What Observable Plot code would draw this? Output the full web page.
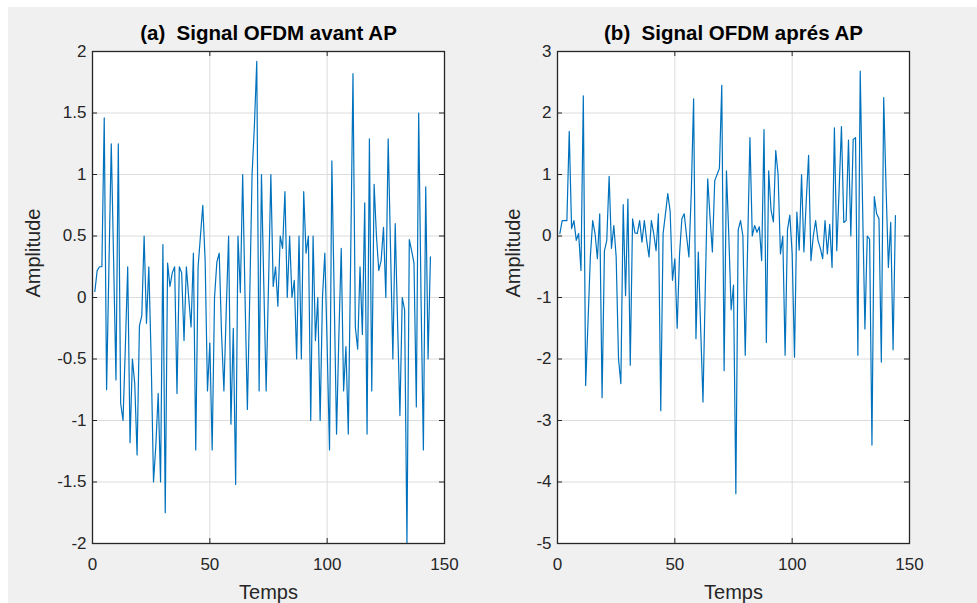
<!DOCTYPE html>
<html>
<head>
<meta charset="utf-8">
<script src="https://cdn.jsdelivr.net/npm/d3@7"></script>
<script src="https://cdn.jsdelivr.net/npm/@observablehq/plot@0.6"></script>
<style>
  html, body { margin: 0; padding: 0; background: #ffffff; }
  #fig { position: relative; width: 977px; height: 603px; overflow: hidden; background: #ffffff; }
  #bg { position: absolute; left: 8px; top: 7px; right: 0; bottom: 0; background: #f0f0f0; }
  .panel { position: absolute; top: 0; }
</style>
</head>
<body>
<div id="fig"><div id="bg"></div></div>
<script>
// ---- data ----
const titleA = "(a)  Signal OFDM avant AP";
const titleB = "(b)  Signal OFDM aprés AP";
const xLabel = "Temps";
const yLabel = "Amplitude";
const xTicks = [0, 50, 100, 150];
const yTicksA = [-2, -1.5, -1, -0.5, 0, 0.5, 1, 1.5, 2];
const yTicksB = [-5, -4, -3, -2, -1, 0, 1, 2, 3];
const tickLabelsA = ["-2", "-1.5", "-1", "-0.5", "0", "0.5", "1", "1.5", "2"];
const tickLabelsB = ["-5", "-4", "-3", "-2", "-1", "0", "1", "2", "3"];

// signal before AP (samples 1..144)
const avantAP = [
  0.05, 0.22, 0.25, 0.25, 1.46, -0.75, 0.25, 1.25, 0.3, -0.67,
  1.25, -0.86, -1.0, -0.4, 0.25, -1.18, -0.5, -0.7, -1.28, -0.23,
  -0.15, 0.5, -0.21, 0.25, -0.5, -1.5, -1.2, -0.78, -1.5, 0.43,
  -1.75, 0.28, 0.09, 0.2, 0.25, -0.78, 0.25, 0.2, -0.35, 0.25,
  0.0, -0.24, 0.36, -1.24, 0.25, 0.5, 0.75, 0.3, -0.76, -0.37,
  -1.24, 0.0, 0.29, 0.36, -0.3, -0.76, -0.1, 0.5, -1.03, -0.25,
  -1.52, 0.5, 0.04, 1.0, 0.0, -0.91, 0.0, 1.0, 1.4, 1.92,
  -0.76, 1.0, 0.1, -0.76, 0.1, 1.0, 0.09, 0.25, -0.07, 0.5,
  0.4, 0.86, 0.0, 0.5, 0.0, 0.14, -0.5, 0.5, -0.5, 0.86,
  0.36, 0.5, -1.0, 0.5, -0.35, 0.0, -1.0, 0.0, 0.36, -0.4,
  -1.24, 1.11, 0.0, -1.11, -0.3, 0.4, -0.76, -0.4, -1.11, 0.3,
  1.82, -0.24, -0.42, 0.25, -0.3, 0.77, -1.11, 1.29, -0.76, 0.92,
  0.5, 0.22, 0.3, 0.57, 0.0, 1.29, 0.4, -0.5, 0.6, -0.2,
  -0.96, 0.0, -0.1, -2.0, 0.47, 0.38, 0.28, -0.89, 1.5, 0.0,
  -1.24, 0.9, -0.5, 0.33
];

// signal after AP (samples 1..144)
const apresAP = [
  0.04, 0.25, 0.25, 0.25, 1.7, 0.12, 0.25, -0.07, 0.04, -0.56,
  2.28, -2.43, -1.4, -0.34, 0.25, 0.04, -0.37, 0.36, -2.63, -0.24,
  -0.07, 0.97, -0.2, 0.17, -0.34, -2.0, -2.4, 0.51, -0.97, 0.6,
  -2.1, 0.28, 0.05, 0.04, 0.25, -0.1, 0.25, -0.07, -0.34, 0.25,
  0.04, -0.24, 0.36, -2.84, 0.04, 0.36, 0.69, 0.4, -0.72, -0.37,
  -1.5, -0.3, 0.28, 0.36, 0.0, -0.34, 0.7, 2.23, -1.67, -0.26,
  -1.5, -2.7, -0.8, 0.93, 0.3, -0.26, 0.9, 1.0, 1.1, 2.45,
  -2.19, 1.06, 0.0, -1.2, -0.8, -4.19, 0.1, 0.25, 0.0, -1.94,
  -0.2, 1.6, 0.0, 0.17, 0.06, 0.15, -0.4, 1.73, -1.73, 1.06,
  0.42, 0.23, 1.39, 1.0, -0.29, 0.0, -1.94, 0.1, 0.34, -0.29,
  -1.97, 0.39, -0.23, 1.0, -0.26, 0.57, 1.31, -0.4, 0.0, 0.25,
  -0.07, -0.2, -0.37, 0.25, -0.29, 0.19, -0.51, 1.76, -0.24, 0.75,
  1.78, 0.22, 0.25, 1.56, 0.0, 1.57, 1.6, -1.94, 2.68, 0.5,
  -1.51, 0.0, -0.05, -3.4, 0.64, 0.36, 0.28, -2.05, 2.25, 0.8,
  -0.51, 0.22, -1.85, 0.33
];

// ---- drawing ----
const FONT = "'Liberation Sans', Arial, Helvetica, sans-serif";
const INK = "#262626";
const LINE = "#0072BD";
const GRID = "#dcdcdc";

function panel({values, yDomain, yTicks, yTickLabels, title, left, width, mL, mR, yLabDx}) {
  const mT = 51, mB = 60, H = 603;
  const fw = width - mL - mR, fh = H - mT - mB;
  const data = values.map((v, i) => ({t: i + 1, v}));
  const fmt = new Map(yTicks.map((d, i) => [d, yTickLabels[i]]));
  const svg = Plot.plot({
    width, height: H,
    marginLeft: mL, marginRight: mR, marginTop: mT, marginBottom: mB,
    style: {background: "transparent", fontFamily: FONT, color: INK, overflow: "visible"},
    x: {domain: [0, 150]},
    y: {domain: yDomain},
    marks: [
      Plot.frame({fill: "white", stroke: "none"}),
      Plot.gridX(xTicks, {stroke: GRID, strokeOpacity: 1, strokeWidth: 1}),
      Plot.gridY(yTicks, {stroke: GRID, strokeOpacity: 1, strokeWidth: 1}),
      Plot.line(data, {x: "t", y: "v", stroke: LINE, strokeWidth: 1.2}),
      Plot.tickX(xTicks, {x: d => d, insetTop: fh - 5, stroke: INK}),
      Plot.tickX(xTicks, {x: d => d, insetBottom: fh - 5, stroke: INK}),
      Plot.tickY(yTicks, {y: d => d, insetRight: fw - 5, stroke: INK}),
      Plot.tickY(yTicks, {y: d => d, insetLeft: fw - 5, stroke: INK}),
      Plot.frame({stroke: INK, strokeWidth: 1.3}),
      Plot.axisX(xTicks, {tickSize: 0, tickPadding: 14, fontSize: 17, label: null, fill: INK}),
      Plot.axisY(yTicks, {tickSize: 0, tickPadding: 6, fontSize: 17, label: null, fill: INK,
        tickFormat: d => fmt.get(d)}),
      Plot.text([title], {text: d => d, frameAnchor: "top", lineAnchor: "middle", dy: -18,
        fontSize: 20.5, fontWeight: "bold", fill: "#000"}),
      Plot.text([xLabel], {text: d => d, frameAnchor: "bottom", lineAnchor: "middle", dy: 49,
        fontSize: 20, fill: INK}),
      Plot.text([yLabel], {text: d => d, frameAnchor: "left", lineAnchor: "middle", dx: yLabDx,
        rotate: -90, fontSize: 20, fill: INK})
    ]
  });
  svg.classList.add("panel");
  svg.style.left = left + "px";
  document.getElementById("fig").appendChild(svg);
}

panel({values: avantAP, yDomain: [-2, 2], yTicks: yTicksA, yTickLabels: tickLabelsA,
  title: titleA, left: 0, width: 488, mL: 92, mR: 44, yLabDx: -59});
panel({values: apresAP, yDomain: [-5, 3], yTicks: yTicksB, yTickLabels: tickLabelsB,
  title: titleB, left: 488, width: 489, mL: 69, mR: 68, yLabDx: -44});
</script>
</body>
</html>
